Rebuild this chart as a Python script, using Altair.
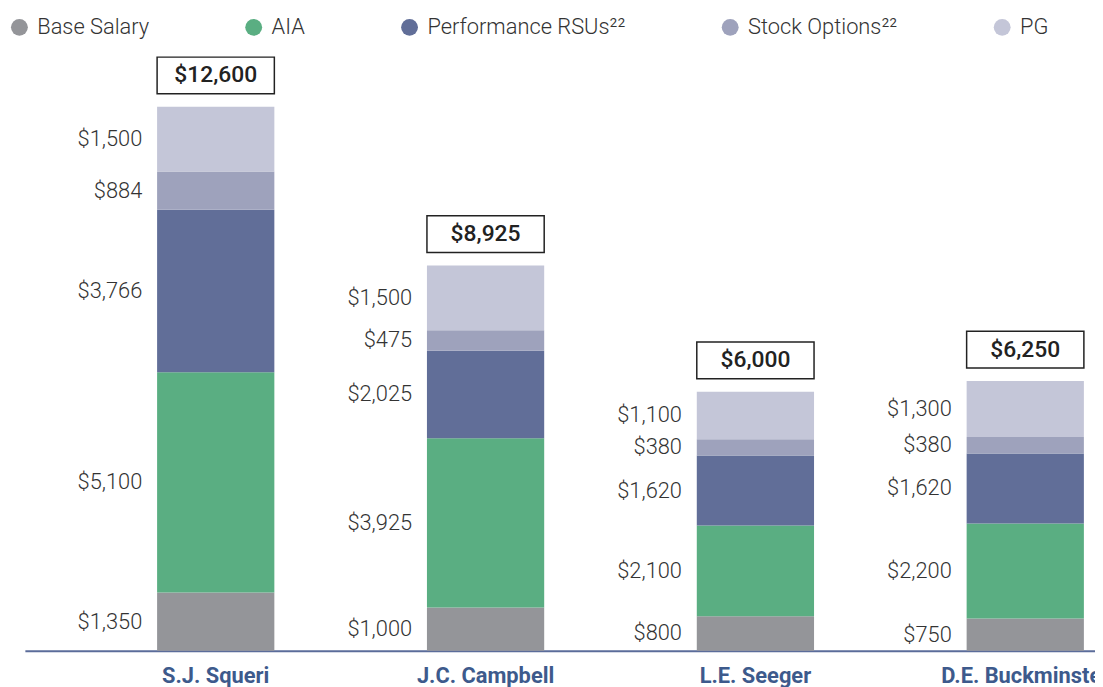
import altair as alt
import pandas as pd

names = ["S.J. Squeri", "J.C. Campbell", "L.E. Seeger", "D.E. Buckminster"]
components = ["Base Salary", "AIA", "Performance RSUs", "Stock Options", "PG"]
base_salary = [1350, 1000, 800, 750]
aia = [5100, 3925, 2100, 2200]
perf_rsus = [3766, 2025, 1620, 1620]
stock_options = [884, 475, 380, 380]
pg = [1500, 1500, 1100, 1300]
totals_shown = [12600, 8925, 6000, 6250]
colors = ["#949599", "#5aae82", "#616e98", "#9ea2bc", "#c4c6d8"]

series = [base_salary, aia, perf_rsus, stock_options, pg]
rows = []
for ci, (comp, vals) in enumerate(zip(components, series)):
    for name, v in zip(names, vals):
        rows.append({"name": name, "component": comp, "ord": ci, "value": v})
df = pd.DataFrame(rows)
totals = pd.DataFrame({"name": names, "total": totals_shown})

FONT = "Roboto"

x_scale = alt.Scale(domain=names, range=[0, 1200], paddingInner=0.5655, paddingOuter=0.49)
y_scale = alt.Scale(domain=[0, 14830], nice=False, zero=True)

x_axis = alt.Axis(
    title=None, domainColor="#5b6c9a", domainWidth=2, ticks=False, tickSize=0,
    labelPadding=32, labelBaseline="alphabetic", labelFont=FONT, labelFontSize=22,
    labelFontWeight="bold", labelColor="#3d5a8c", labelAngle=0, labelOverlap=False,
    labelFlush=False, grid=False,
)

legend = alt.Legend(
    title=None, orient="none", legendX=-16.5, legendY=6, direction="horizontal",
    columns=5, symbolType="circle", symbolSize=289, symbolStrokeWidth=0,
    labelFont=FONT, labelFontSize=22, labelFontWeight=300, labelColor="#333333",
    labelOffset=7, columnPadding=94, padding=0, gridAlign="each", labelLimit=400,
    labelExpr="(datum.label == 'Performance RSUs' || datum.label == 'Stock Options') ? datum.label + '\u00b2\u00b2' : datum.label",
)

base = alt.Chart(df).transform_stack(
    stack="value", as_=["y0", "y1"], groupby=["name"],
    sort=[alt.SortField("ord", order="ascending")],
).transform_calculate(mid="(datum.y0 + datum.y1) / 2")

bars = base.mark_bar().encode(
    x=alt.X("name:N", scale=x_scale, axis=x_axis),
    y=alt.Y("y0:Q", scale=y_scale, axis=None),
    y2="y1:Q",
    color=alt.Color("component:N", scale=alt.Scale(domain=components, range=colors), legend=legend),
)

labels = base.mark_text(
    align="right", baseline="middle", dx=-74, font=FONT, fontSize=22,
    fontWeight=300, color="#333333",
).encode(
    x=alt.X("name:N"),
    y=alt.Y("mid:Q"),
    text=alt.Text("value:Q", format="$,.0f"),
)

box = alt.Chart(totals).mark_bar(
    fill="white", stroke="#222222", strokeWidth=1.5, yOffset=-13, y2Offset=-50,
).encode(
    x=alt.X("name:N"),
    y=alt.Y("total:Q"),
    y2="total:Q",
)

tot_text = alt.Chart(totals).mark_text(
    dy=-31.5, baseline="middle", font=FONT, fontSize=23, fontWeight=500, color="#222222",
).encode(
    x=alt.X("name:N"),
    y=alt.Y("total:Q"),
    text=alt.Text("total:Q", format="$,.0f"),
)

chart = alt.layer(bars, labels, box, tot_text).properties(
    width=1078, height=645,
    autosize=alt.AutoSizeParams(type="none"),
    padding={"left": 17, "top": 0, "right": 0, "bottom": 34},
).configure_view(stroke=None)

chart.save("out.html", embed_options={"renderer": "svg", "actions": False})
